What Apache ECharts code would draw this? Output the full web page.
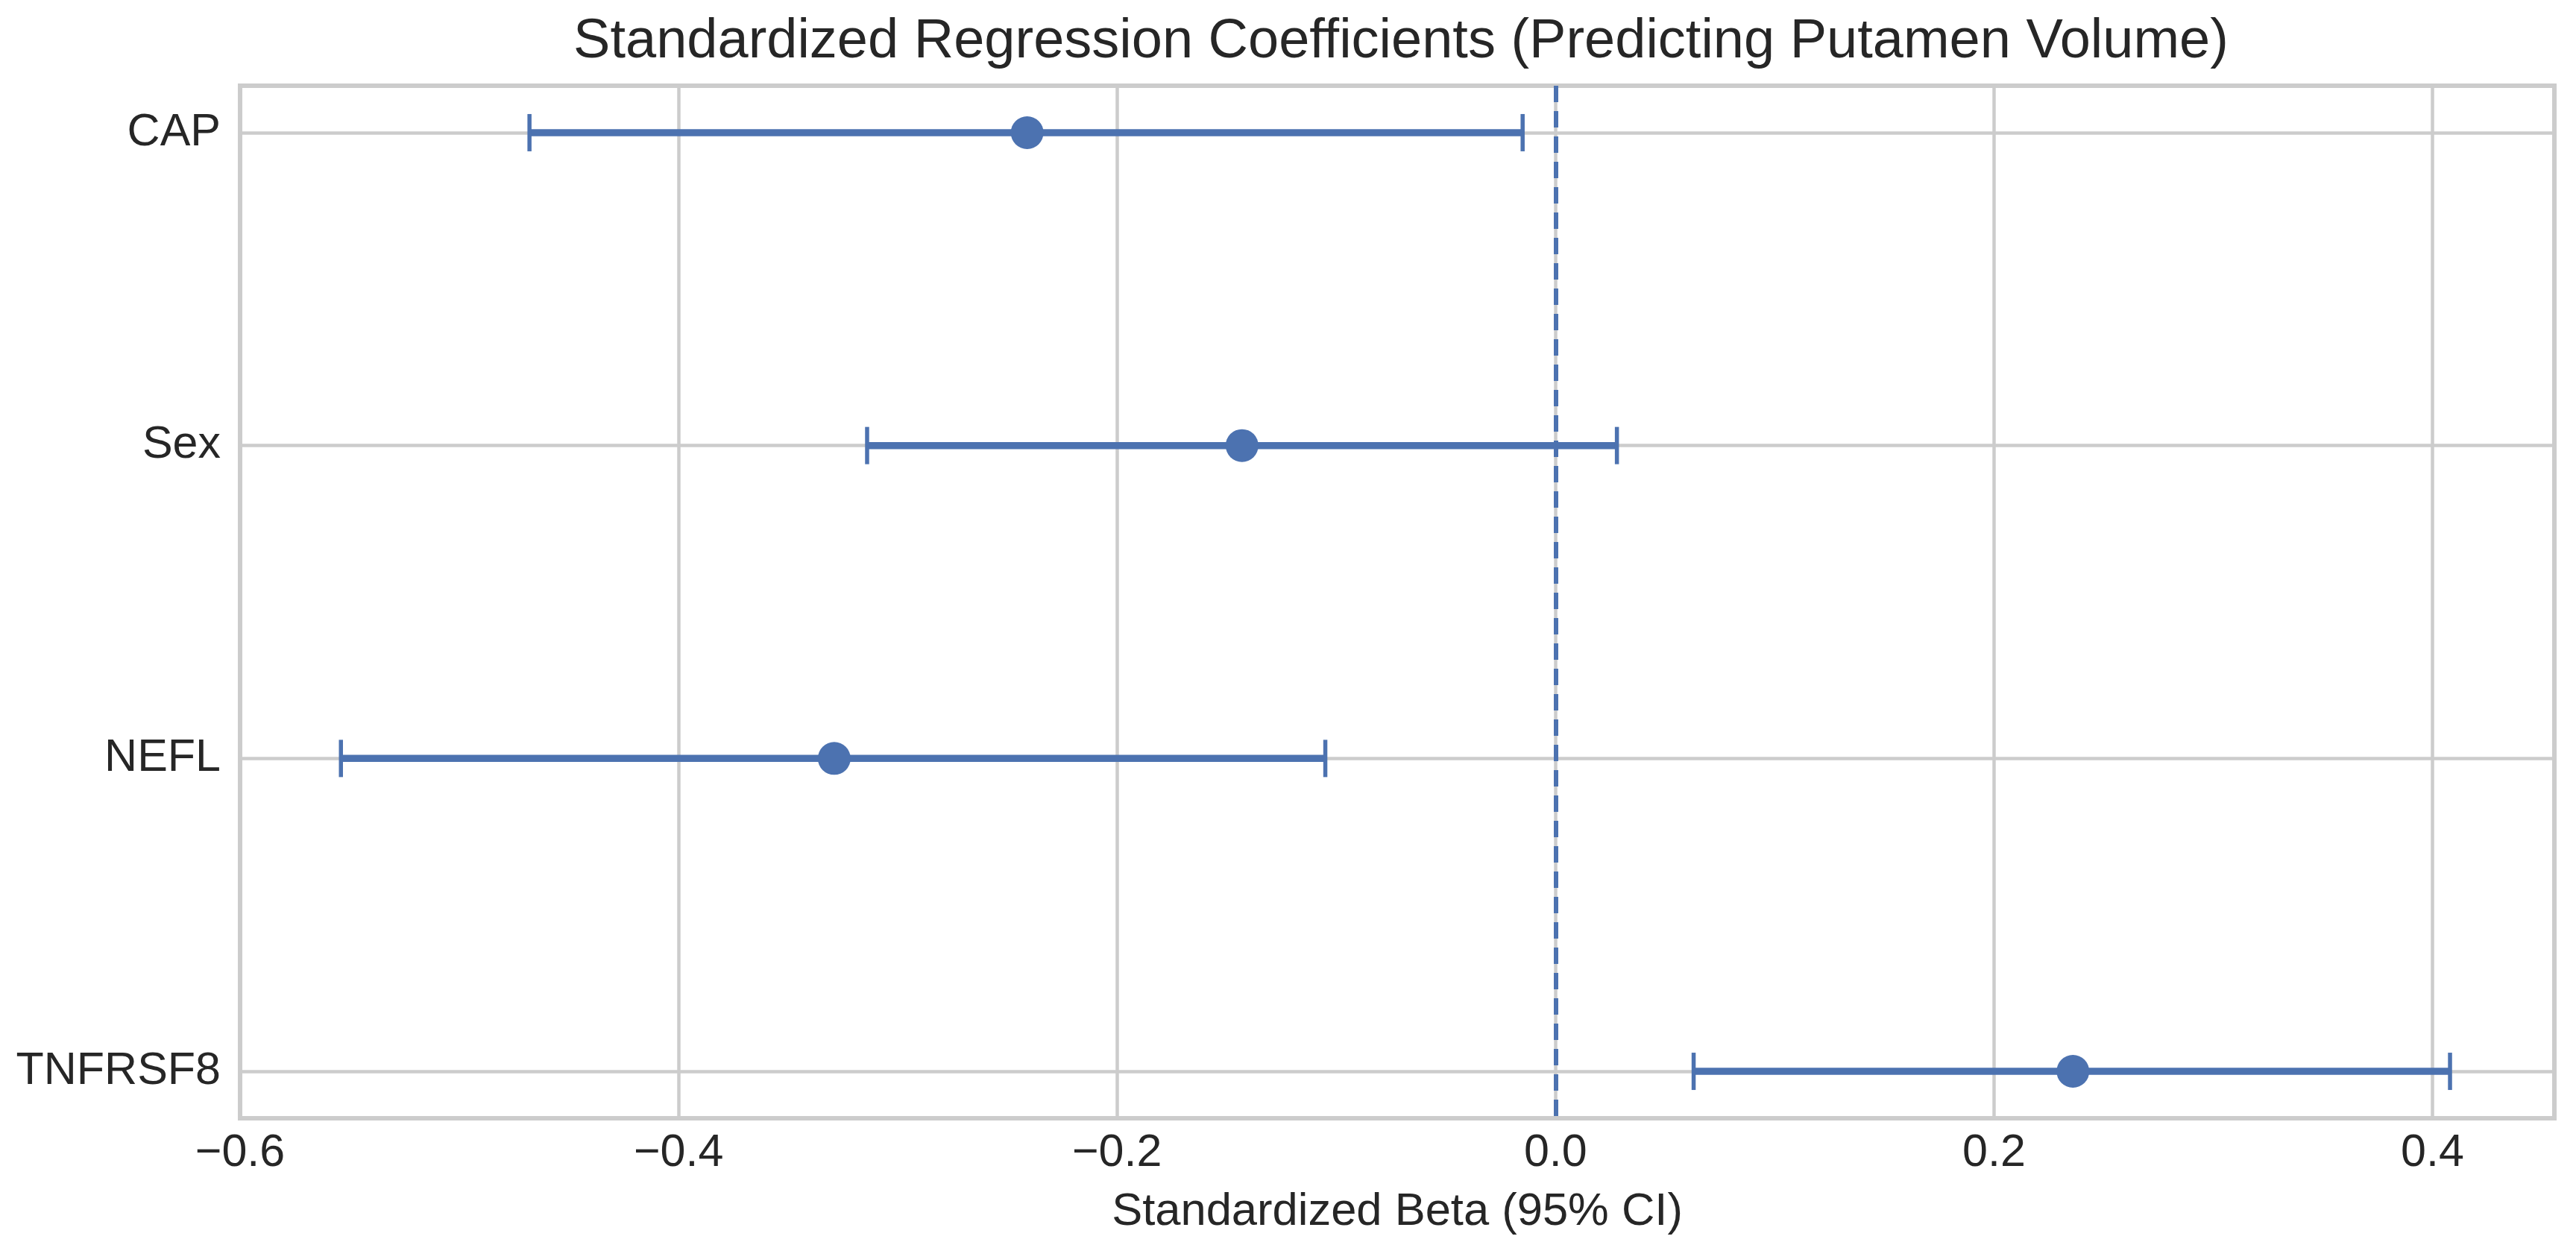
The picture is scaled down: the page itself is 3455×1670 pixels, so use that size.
<!DOCTYPE html>
<html>
<head>
<meta charset="utf-8">
<title>Standardized Regression Coefficients</title>
<script src="https://cdn.jsdelivr.net/npm/echarts@6/dist/echarts.min.js"></script>
<style>
  html, body { margin: 0; padding: 0; background: #fff; }
  #chart { width: 3455px; height: 1670px; }
</style>
</head>
<body>
<div id="chart"></div>
<script>
// predictors, top to bottom
var categories = ['CAP', 'Sex', 'NEFL', 'TNFRSF8'];
// standardized beta and 95% CI
var betas = [-0.241, -0.143, -0.329, 0.236];
var ciLow = [-0.468, -0.314, -0.554, 0.063];
var ciHigh = [-0.015, 0.028, -0.105, 0.408];

var blue = '#4C72B0';
var gridGray = '#cccccc';
var textColor = '#262626';
var font = '"Liberation Sans", Arial, sans-serif';

var errData = categories.map(function (c, i) {
    return [i, ciLow[i], ciHigh[i]];
});
var pointData = categories.map(function (c, i) {
    return [betas[i], i];
});
var rowLines = categories.map(function (c, i) {
    return { yAxis: i };
});

function fmtTick(v) {
    var r = Math.round(v * 10) / 10;
    if (Math.abs(v - r) > 1e-6 || r > 0.4) return '';
    return r.toFixed(1).replace('-', '\u2212');
}

var option = {
    backgroundColor: '#fff',
    animation: false,
    title: {
        text: 'Standardized Regression Coefficients (Predicting Putamen Volume)',
        left: 1874,
        textAlign: 'center',
        top: 15,
        textStyle: {
            fontFamily: font,
            fontSize: 74,
            fontWeight: 'normal',
            color: textColor,
            lineHeight: 74
        }
    },
    grid: {
        left: 322,
        right: 29,
        top: 115,
        bottom: 170,
        show: true,
        borderColor: gridGray,
        borderWidth: 6,
        backgroundColor: '#fff'
    },
    xAxis: {
        type: 'value',
        min: -0.6,
        max: 0.4556,
        interval: 0.2,
        name: 'Standardized Beta (95% CI)',
        nameLocation: 'middle',
        nameGap: 95,
        nameTextStyle: { fontFamily: font, fontSize: 61.5, color: textColor },
        axisLine: { show: false },
        axisTick: { show: false },
        axisLabel: {
            fontFamily: font,
            fontSize: 61,
            color: textColor,
            margin: 17,
            showMaxLabel: false,
            formatter: fmtTick
        },
        splitLine: { show: true, lineStyle: { color: gridGray, width: 4.5 } }
    },
    yAxis: {
        type: 'value',
        min: -0.15,
        max: 3.15,
        inverse: true,
        axisLine: { show: false },
        axisTick: { show: false },
        splitLine: { show: false },
        axisLabel: {
            fontFamily: font,
            fontSize: 61,
            color: textColor,
            margin: 26,
            customValues: [0, 1, 2, 3],
            formatter: function (v) {
                return Number.isInteger(v) ? categories[v] : '';
            }
        }
    },
    series: [
        {
            // horizontal grid lines at each predictor + dashed zero line
            type: 'line',
            data: [],
            z: 1,
            silent: true,
            markLine: {
                z: 1,
                silent: true,
                symbol: 'none',
                label: { show: false },
                data: rowLines.map(function (d) {
                    return Object.assign({ lineStyle: { color: gridGray, width: 4.5, type: 'solid' } }, d);
                }).concat([
                    { xAxis: 0, lineStyle: { color: blue, width: 6, type: [22, 12] } }
                ])
            }
        },
        {
            type: 'custom',
            z: 3,
            data: errData,
            encode: { x: [1, 2], y: 0 },
            renderItem: function (params, api) {
                var y = api.value(0);
                var a = api.coord([api.value(1), y]);
                var b = api.coord([api.value(2), y]);
                var capH = 25;
                var st = { stroke: blue, lineWidth: 9.5 };
                var cs = { stroke: blue, lineWidth: 5.5 };
                return {
                    type: 'group',
                    children: [
                        { type: 'line', shape: { x1: a[0], y1: a[1], x2: b[0], y2: b[1] }, style: st },
                        { type: 'line', shape: { x1: a[0], y1: a[1] - capH, x2: a[0], y2: a[1] + capH }, style: cs },
                        { type: 'line', shape: { x1: b[0], y1: b[1] - capH, x2: b[0], y2: b[1] + capH }, style: cs }
                    ]
                };
            }
        },
        {
            type: 'scatter',
            z: 4,
            data: pointData,
            symbol: 'circle',
            symbolSize: 44,
            itemStyle: { color: blue, opacity: 1 }
        }
    ]
};

var chart = echarts.init(document.getElementById('chart'));
chart.setOption(option);
</script>
</body>
</html>
